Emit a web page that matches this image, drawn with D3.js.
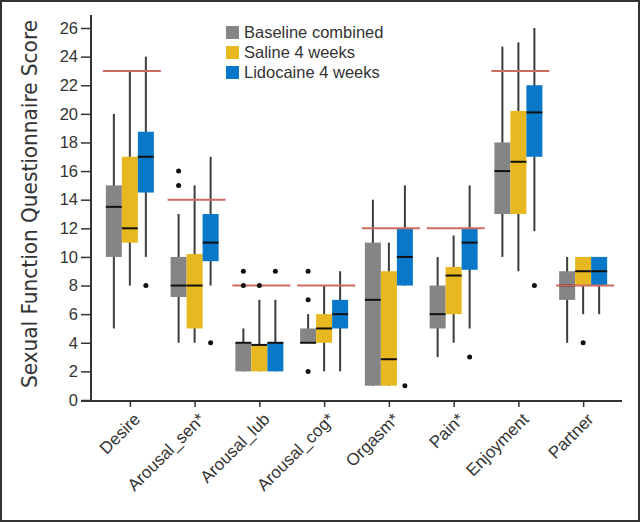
<!DOCTYPE html>
<html><head><meta charset="utf-8">
<script src="https://cdn.jsdelivr.net/npm/d3@7/dist/d3.min.js"></script>
<style>body{margin:0;background:#fff;} svg{display:block;}</style>
</head><body>
<svg id="chart" width="640" height="522"></svg>
<script>
const categories = ["Desire","Arousal_sen*","Arousal_lub","Arousal_cog*","Orgasm*","Pain*","Enjoyment","Partner"];
const seriesNames = ["Baseline combined","Saline 4 weeks","Lidocaine 4 weeks"];
const yTicks = [0,2,4,6,8,10,12,14,16,18,20,22,24,26];
// [min, q1, median, q3, max]
const baseline = [[5,10,13.5,15,20],[4,7.2,8,10,13],[2,2,4,4,5],[4,4,4,5,6],[1,1,7,11,14],[3,5,6,8,10],[10,13,16,18,24.7],[4,7,8,9,10]];
const saline = [[8,11,12,17,23],[4,5,8,10.2,15],[2,2,3.85,3.85,7],[2,4,5,6,8],[1,1,2.85,9,11],[4,6,8.7,9.3,11.5],[9,13,16.65,20.2,25],[6,8,9,10,10]];
const lidocaine = [[10,14.5,17,18.75,24],[8,9.7,11,13,17],[2,2,4,4,7],[2,5,6,7,9],[8,8,10,12,15],[5,9.1,11,12,15],[11.8,17,20.1,22,26],[6,8,9,10,10]];
const baselineOutliers = [[],[15,16],[8,9],[2,7,9],[],[],[],[]];
const salineOutliers = [[],[],[8],[],[],[],[],[4]];
const lidocaineOutliers = [[8],[4],[9],[],[1],[3],[8],[]];
const reference = [23,14,8,8,12,12,23,8];
const colors = ["#858585","#e8b820","#0a78c8"];

const stats = [baseline, saline, lidocaine];
const outs = [baselineOutliers, salineOutliers, lidocaineOutliers];

const svg = d3.select("#chart");
const x = d3.scalePoint().domain(categories).range([91,622]).padding(0.6);
const xs = d3.scaleBand().domain(seriesNames).range([-24,24]);
const y = d3.scaleLinear().domain([0,26]).range([400,28]);
const bw = xs.bandwidth();
const font = "Liberation Sans, Arial, Helvetica, sans-serif";

// frame
svg.append("rect").attr("x",1).attr("y",1).attr("width",638).attr("height",520)
  .attr("fill","none").attr("stroke","#333").attr("stroke-width",2);

// axes
const yAxis = svg.append("g").attr("transform","translate(91,0)")
  .call(d3.axisLeft(y).tickValues(yTicks).tickSize(10).tickPadding(3));
yAxis.select(".domain").remove();
yAxis.selectAll(".tick line").attr("stroke","#333").attr("stroke-width",1.5);
yAxis.selectAll("text").attr("fill","#333").style("font-family",font).style("font-size","16.5px");
svg.append("line").attr("x1",91).attr("x2",91).attr("y1",15).attr("y2",401).attr("stroke","#333").attr("stroke-width",2);

const xAxis = svg.append("g").attr("transform","translate(0,401)")
  .call(d3.axisBottom(x).tickSize(6).tickFormat(""));
xAxis.select(".domain").remove();
xAxis.selectAll(".tick line").attr("stroke","#333").attr("stroke-width",1.5);
svg.append("line").attr("x1",81).attr("x2",622).attr("y1",401).attr("y2",401).attr("stroke","#333").attr("stroke-width",2);

svg.append("g").selectAll("text").data(categories).join("text")
  .attr("transform",d=>`translate(${x(d)+3},412) rotate(-45)`)
  .attr("text-anchor","end").attr("dy","0.7em")
  .attr("fill","#333").style("font-family",font).style("font-size","17px")
  .text(d=>d);

// y title
svg.append("text").attr("transform","translate(37,204) rotate(-90)")
  .attr("text-anchor","middle").attr("fill","#333")
  .style("font-family","DejaVu Sans Condensed, Liberation Sans Narrow, Liberation Sans, sans-serif")
  .style("font-size","22px").attr("textLength",368).attr("lengthAdjust","spacingAndGlyphs")
  .text("Sexual Function Questionnaire Score");

// boxes
const plot = svg.append("g");
seriesNames.forEach((s,si)=>{
  const g = plot.append("g");
  const data = categories.map((c,i)=>({c, v:stats[si][i], o:outs[si][i]}));
  const cx = d=>x(d.c)+xs(s)+bw/2;
  g.selectAll(".wh").data(data).join("line")
    .attr("x1",cx).attr("x2",cx).attr("y1",d=>y(d.v[4])).attr("y2",d=>y(d.v[0]))
    .attr("stroke","#3c3c3c").attr("stroke-width",2);
  g.selectAll(".bx").data(data).join("rect")
    .attr("x",d=>x(d.c)+xs(s)).attr("width",bw)
    .attr("y",d=>y(d.v[3])).attr("height",d=>y(d.v[1])-y(d.v[3]))
    .attr("fill",colors[si]);
  g.selectAll(".md").data(data).join("line")
    .attr("x1",d=>x(d.c)+xs(s)).attr("x2",d=>x(d.c)+xs(s)+bw)
    .attr("y1",d=>y(d.v[2])).attr("y2",d=>y(d.v[2]))
    .attr("stroke","#111").attr("stroke-width",2);
});
// reference lines
plot.append("g").selectAll("line").data(categories).join("line")
  .attr("x1",d=>x(d)-27).attr("x2",d=>x(d)+31)
  .attr("y1",(d,i)=>y(reference[i])).attr("y2",(d,i)=>y(reference[i]))
  .attr("stroke","#cd6b60").attr("stroke-width",2);
// outliers
seriesNames.forEach((s,si)=>{
  const pts = [];
  categories.forEach((c,i)=>outs[si][i].forEach(v=>pts.push({c,v})));
  plot.append("g").selectAll("circle").data(pts).join("circle")
    .attr("cx",d=>x(d.c)+xs(s)+bw/2).attr("cy",d=>y(d.v)).attr("r",2.5).attr("fill","#111");
});

// legend
const lg = svg.append("g");
seriesNames.forEach((s,i)=>{
  lg.append("rect").attr("x",226).attr("y",26+i*20).attr("width",13).attr("height",13).attr("fill",colors[i]);
  lg.append("text").attr("x",244).attr("y",38+i*20).attr("fill","#333")
    .style("font-family",font).style("font-size","16.5px").text(s);
});
</script>
</body></html>
